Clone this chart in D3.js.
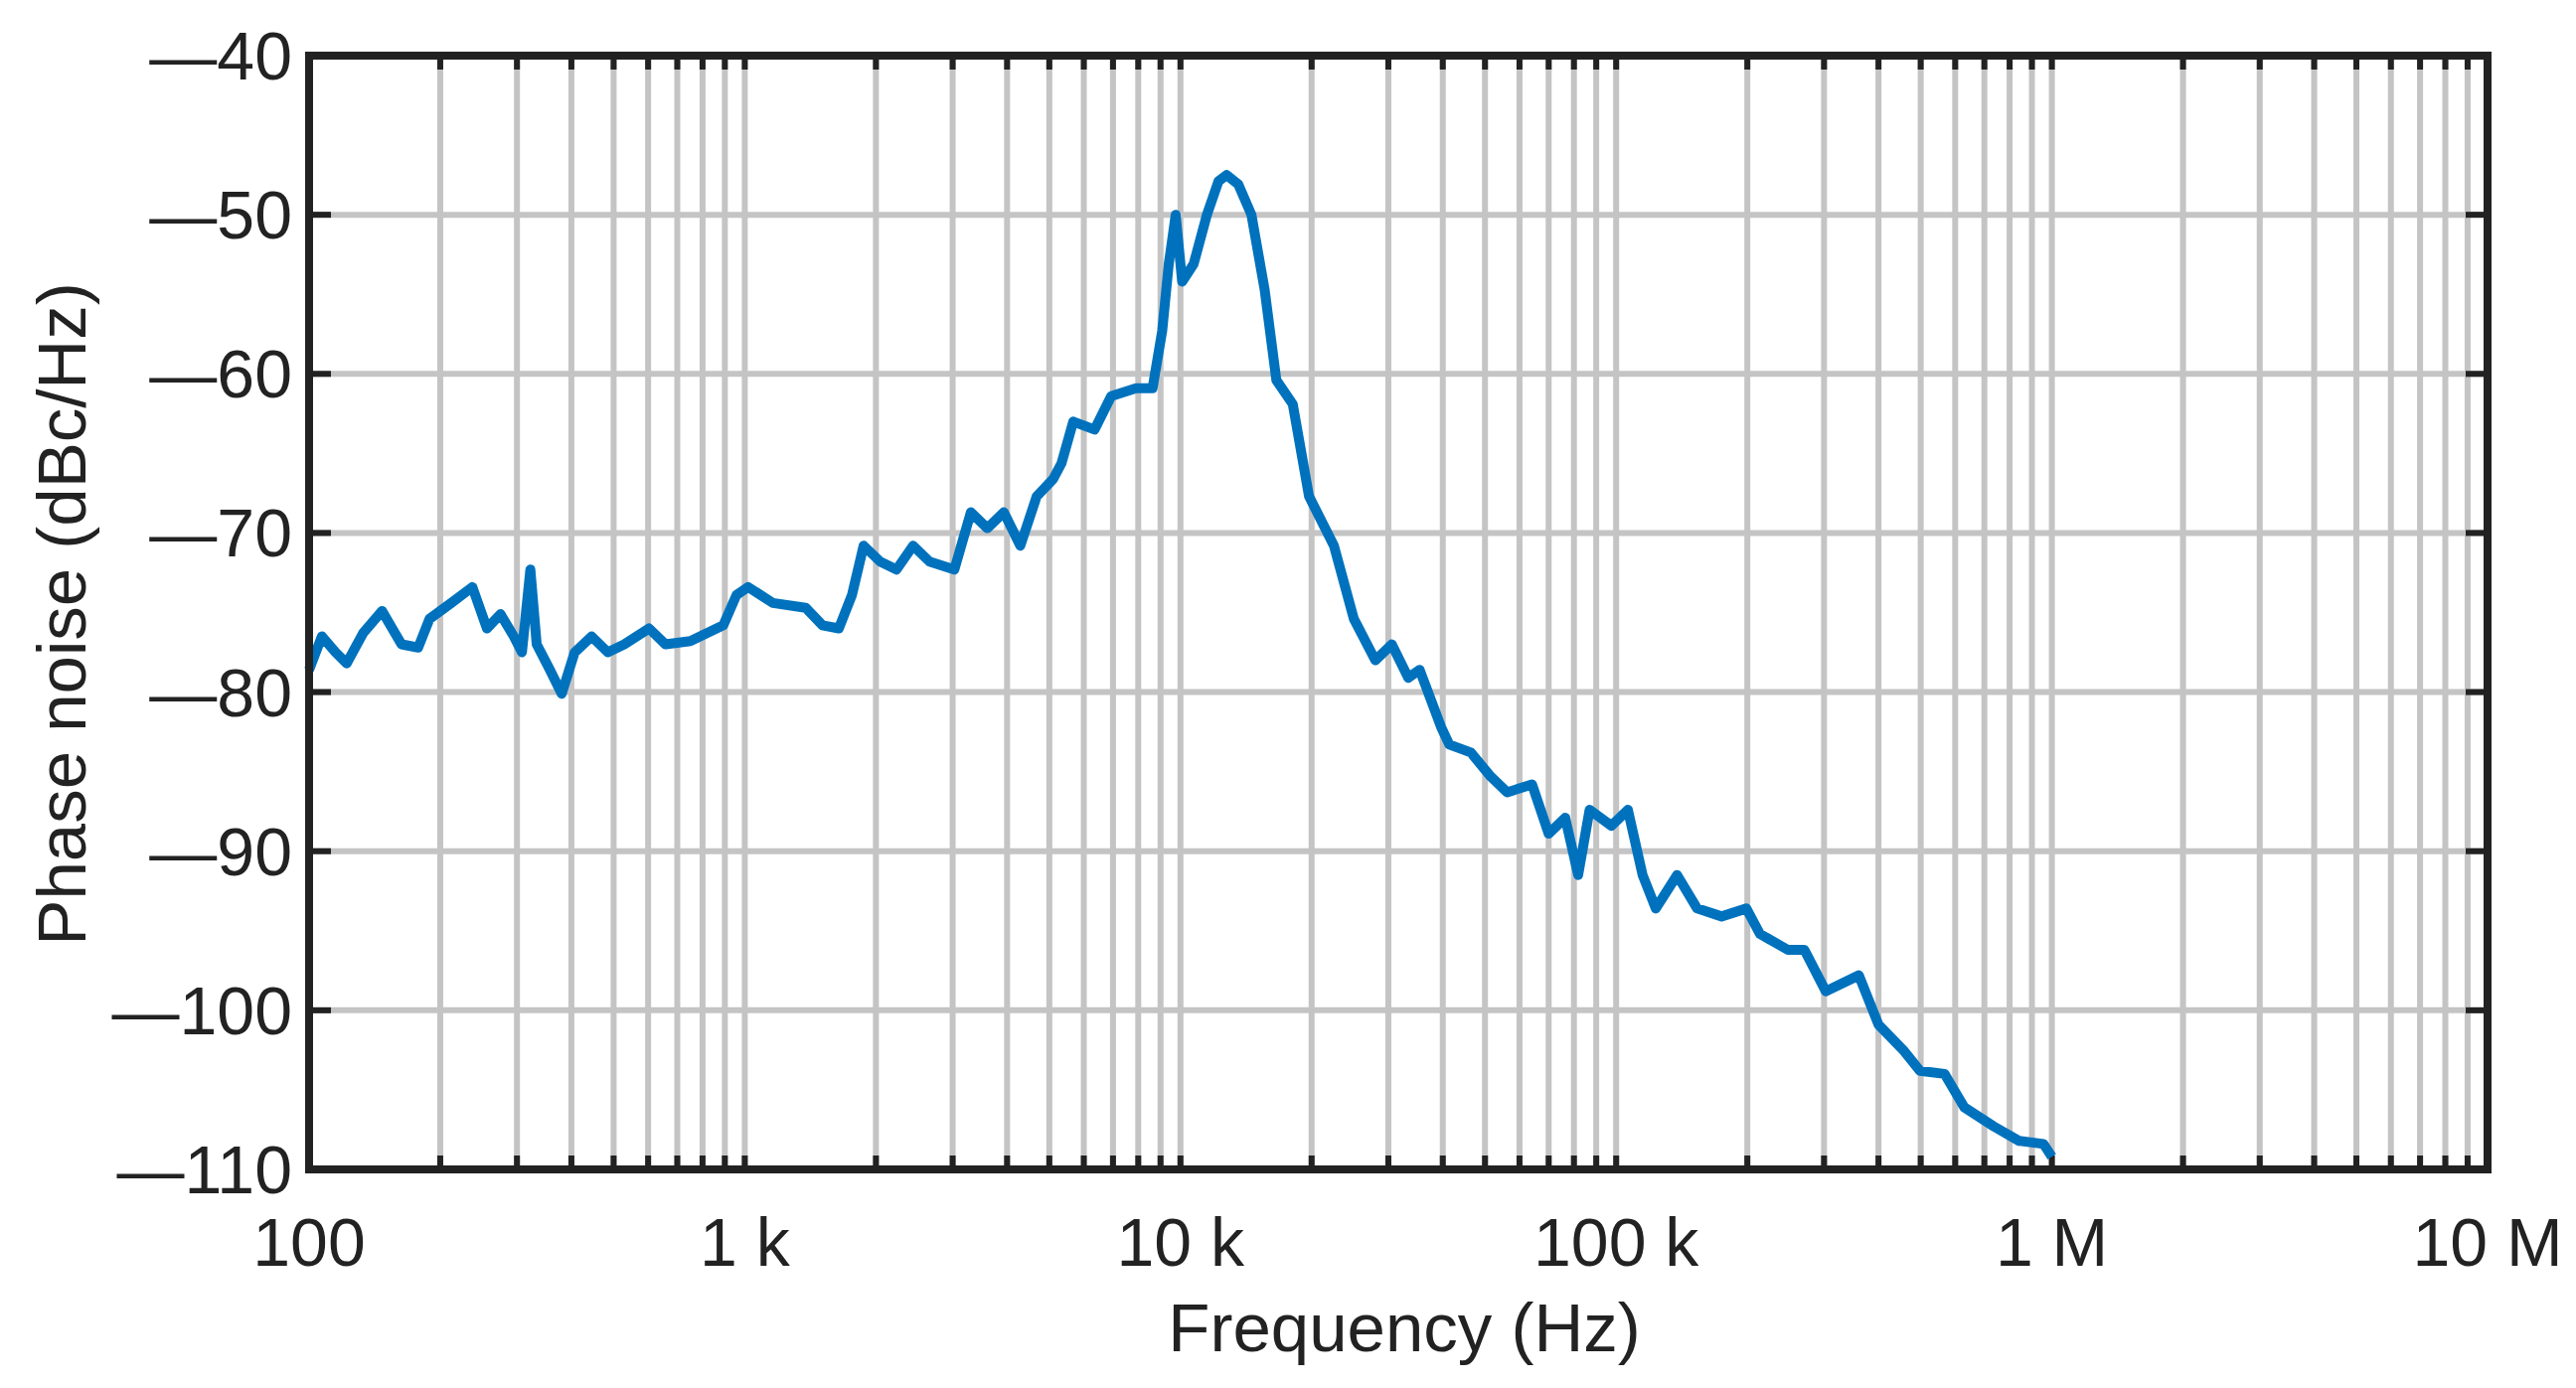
<!DOCTYPE html>
<html><head><meta charset="utf-8">
<script src="https://cdn.jsdelivr.net/npm/d3@7"></script>
<style>body{margin:0;background:#fff}svg{display:block}text{font-family:"Liberation Sans",Arial,sans-serif;fill:#222}</style>
</head><body>
<script>
const freq=[100,107,115,122,133,147,163,178,189,212,237,256,275,295,308,322,333,357,380,407,445,485,529,603,658,750,893,957,1018,1160,1380,1507,1644,1762,1874,2045,2230,2434,2655,3027,3303,3603,3932,4290,4677,5105,5336,5674,6353,6934,7907,8630,9080,9400,9750,10090,10720,11500,12220,12760,13580,14550,15600,16600,18100,19730,22500,25000,28000,30550,33340,35400,39650,41400,46400,51500,56200,64100,70000,76400,81800,86900,97500,106400,115000,123300,138000,153400,174600,199000,213800,247800,270400,302700,360600,400000,456000,497700,567500,629500,736000,839500,957000,1000000];
const noise=[-78.6,-76.5,-77.5,-78.2,-76.3,-74.9,-77.0,-77.2,-75.4,-74.4,-73.4,-76.0,-75.1,-76.5,-77.5,-72.3,-77.0,-78.6,-80.1,-77.5,-76.5,-77.5,-77.0,-76.0,-77.0,-76.8,-75.8,-73.9,-73.4,-74.4,-74.7,-75.8,-76.0,-73.9,-70.8,-71.8,-72.3,-70.8,-71.8,-72.3,-68.7,-69.7,-68.7,-70.8,-67.7,-66.6,-65.6,-63.0,-63.5,-61.4,-60.9,-60.9,-57.3,-53.1,-50.0,-54.2,-53.1,-50.0,-47.9,-47.5,-48.1,-50.0,-54.7,-60.4,-61.9,-67.7,-70.8,-75.4,-78.0,-77.0,-79.1,-78.6,-82.2,-83.3,-83.8,-85.3,-86.3,-85.8,-88.9,-87.9,-91.5,-87.4,-88.4,-87.4,-91.5,-93.6,-91.5,-93.6,-94.1,-93.6,-95.2,-96.2,-96.2,-98.8,-97.8,-100.9,-102.5,-103.8,-104.0,-106.1,-107.3,-108.2,-108.4,-109.2];
const xTickVals=[100,1e3,1e4,1e5,1e6,1e7];
const xTickLabels=["100","1 k","10 k","100 k","1 M","10 M"];
const yTickVals=[-40,-50,-60,-70,-80,-90,-100,-110];
const yTickLabels=["\u201440","\u201450","\u201460","\u201470","\u201480","\u201490","\u2014100","\u2014110"];

const W=2592,H=1397,L=311,R=2503,T=56,B=1177;
const svg=d3.select("body").append("svg").attr("width",W).attr("height",H);
const x=d3.scaleLog().domain([100,1e7]).range([L,R]);
const y=d3.scaleLinear().domain([-110,-40]).range([B,T]);
const minor=[];
for(let d=100;d<1e7;d*=10)for(let k=1;k<10;k++)minor.push(d*k);
const inner=minor.filter(v=>v>100&&v<1e7);
const g=svg.append("g");
g.selectAll(".vg").data(inner).enter().append("line")
 .attr("x1",d=>x(d)).attr("x2",d=>x(d)).attr("y1",T).attr("y2",B).attr("stroke","#c4c4c4").attr("stroke-width",6);
g.selectAll(".hg").data(yTickVals.slice(1,-1)).enter().append("line")
 .attr("x1",L).attr("x2",R).attr("y1",d=>y(d)).attr("y2",d=>y(d)).attr("stroke","#c4c4c4").attr("stroke-width",6);
g.selectAll(".xt").data(inner).enter().append("g").each(function(d){
 const s=d3.select(this);
 s.append("line").attr("x1",x(d)).attr("x2",x(d)).attr("y1",B).attr("y2",B-14).attr("stroke","#222").attr("stroke-width",6);
 s.append("line").attr("x1",x(d)).attr("x2",x(d)).attr("y1",T).attr("y2",T+14).attr("stroke","#222").attr("stroke-width",6);
});
g.selectAll(".yt").data(yTickVals.slice(1,-1)).enter().append("g").each(function(d){
 const s=d3.select(this);
 s.append("line").attr("x1",L).attr("x2",L+22).attr("y1",y(d)).attr("y2",y(d)).attr("stroke","#222").attr("stroke-width",6);
 s.append("line").attr("x1",R).attr("x2",R-22).attr("y1",y(d)).attr("y2",y(d)).attr("stroke","#222").attr("stroke-width",6);
});
const line=d3.line().x((d,i)=>x(freq[i])).y(d=>y(d)).curve(d3.curveLinear);
svg.append("path").attr("d",line(noise)).attr("fill","none").attr("stroke","#0072BD").attr("stroke-width",10).attr("stroke-linejoin","round");
svg.append("rect").attr("x",L).attr("y",T).attr("width",R-L).attr("height",B-T).attr("fill","none").attr("stroke","#222").attr("stroke-width",8);
svg.selectAll(".xl").data(xTickVals).enter().append("text").attr("x",d=>x(d)).attr("y",1274)
 .attr("text-anchor","middle").attr("font-size",68).text((d,i)=>xTickLabels[i]);
svg.selectAll(".yl").data(yTickVals).enter().append("text").attr("x",294).attr("y",d=>y(d)+24)
 .attr("text-anchor","end").attr("font-size",68).text((d,i)=>yTickLabels[i]);
svg.append("text").attr("x",1413).attr("y",1360).attr("text-anchor","middle").attr("font-size",69).text("Frequency (Hz)");
svg.append("text").attr("transform","translate(86,618) rotate(-90)").attr("text-anchor","middle").attr("font-size",69).text("Phase noise (dBc/Hz)");
</script></body></html>
